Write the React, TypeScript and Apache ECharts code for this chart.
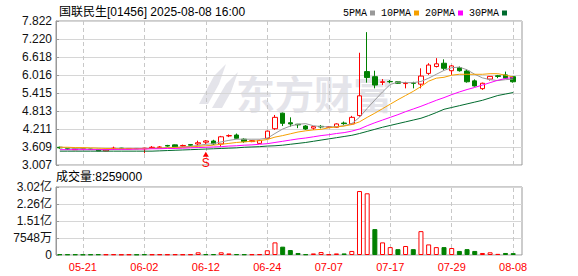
import React, { useEffect, useRef } from "react";
import * as echarts from "echarts";

const dates = [
  "05-16","05-19","05-20","05-21","05-22","05-23","05-26","05-27","05-28","05-29",
  "05-30","06-02","06-03","06-04","06-05","06-06","06-09","06-10","06-11","06-12",
  "06-13","06-16","06-17","06-18","06-19","06-20","06-23","06-24","06-25","06-26",
  "06-27","06-30","07-02","07-03","07-04","07-07","07-08","07-09","07-10","07-11",
  "07-14","07-15","07-16","07-17","07-18","07-21","07-22","07-23","07-24","07-25",
  "07-28","07-29","07-30","07-31","08-01","08-04","08-05","08-06","08-07","08-08",
];
const labelDates = ["05-21","06-02","06-12","06-24","07-07","07-17","07-29","08-08"];

const opens = [3.60,3.55,3.52,3.55,3.54,3.53,3.48,3.55,3.57,3.55,3.56,3.55,3.58,3.59,3.66,3.68,3.64,3.69,3.71,3.77,3.81,3.71,3.98,4.01,3.87,3.79,3.73,3.90,4.22,4.74,4.42,4.37,4.31,4.24,4.30,4.27,4.27,4.41,4.38,4.66,6.13,5.96,5.77,5.80,5.79,5.73,5.75,5.71,6.07,6.30,6.41,6.16,6.26,6.15,5.82,5.56,5.88,5.99,6.02,5.96];
const closes = [3.58,3.54,3.55,3.555,3.53,3.48,3.53,3.57,3.55,3.56,3.55,3.57,3.60,3.61,3.64,3.61,3.66,3.67,3.75,3.81,3.71,3.95,3.99,3.90,3.79,3.82,3.83,4.14,4.60,4.40,4.38,4.35,4.21,4.29,4.28,4.28,4.38,4.39,4.60,5.32,5.93,5.68,5.79,5.79,5.74,5.74,5.74,5.98,6.35,6.39,6.24,6.32,6.16,5.79,5.65,5.74,5.97,5.97,5.91,5.79];
const lows = [3.55,3.52,3.51,3.53,3.52,3.47,3.47,3.51,3.54,3.54,3.54,3.40,3.56,3.57,3.62,3.60,3.62,3.65,3.67,3.70,3.68,3.62,3.94,3.87,3.75,3.77,3.71,3.88,4.18,4.31,4.29,4.24,4.18,4.18,4.23,4.25,4.25,4.35,4.35,4.62,5.76,5.57,5.68,5.74,5.72,5.57,5.57,5.57,6.02,6.27,6.18,6.02,6.13,5.76,5.63,5.52,5.83,5.91,5.89,5.76];
const highs = [3.62,3.57,3.56,3.57,3.55,3.54,3.54,3.62,3.58,3.57,3.57,3.58,3.64,3.64,3.68,3.69,3.69,3.70,3.82,3.84,3.85,3.98,4.03,4.06,3.90,3.84,3.85,4.16,4.68,4.76,4.60,4.38,4.34,4.31,4.34,4.30,4.40,4.46,4.65,6.76,7.45,6.16,5.88,5.85,5.80,5.79,5.79,6.24,6.41,6.58,6.54,6.35,6.30,6.21,5.87,5.76,5.98,6.02,6.13,5.98];

const ma5 = [3.60,3.58,3.56,3.55,3.54,3.53,3.52,3.53,3.54,3.55,3.55,3.56,3.56,3.57,3.59,3.60,3.61,3.63,3.66,3.70,3.72,3.78,3.83,3.87,3.87,3.87,3.87,3.90,4.06,4.21,4.31,4.37,4.39,4.32,4.29,4.28,4.29,4.32,4.39,4.60,4.90,5.18,5.45,5.70,5.78,5.76,5.76,5.80,5.91,6.04,6.17,6.26,6.28,6.19,6.04,5.92,5.86,5.83,5.86,5.88];
const ma10 = [3.60,3.60,3.59,3.59,3.58,3.57,3.56,3.56,3.55,3.55,3.55,3.55,3.56,3.57,3.58,3.59,3.60,3.61,3.63,3.65,3.67,3.70,3.73,3.76,3.78,3.80,3.82,3.86,3.94,3.99,4.05,4.11,4.15,4.18,4.20,4.25,4.28,4.31,4.36,4.45,4.60,4.74,4.89,5.04,5.19,5.33,5.47,5.63,5.81,5.91,5.94,6.01,6.04,6.04,6.04,6.04,6.06,6.06,6.01,5.95];
const ma20 = [3.52,3.52,3.52,3.52,3.52,3.52,3.52,3.53,3.53,3.53,3.54,3.54,3.55,3.55,3.56,3.56,3.57,3.58,3.59,3.60,3.61,3.62,3.64,3.65,3.67,3.68,3.70,3.72,3.76,3.80,3.84,3.88,3.91,3.95,3.99,4.02,4.06,4.09,4.14,4.21,4.32,4.42,4.51,4.60,4.69,4.79,4.88,4.97,5.07,5.17,5.26,5.36,5.45,5.53,5.60,5.68,5.76,5.84,5.90,5.93];
const ma30 = [3.47,3.47,3.47,3.47,3.47,3.47,3.47,3.47,3.47,3.47,3.47,3.47,3.47,3.48,3.49,3.50,3.51,3.52,3.53,3.54,3.55,3.56,3.57,3.58,3.60,3.61,3.62,3.64,3.65,3.67,3.70,3.73,3.76,3.80,3.84,3.88,3.92,3.96,4.00,4.06,4.13,4.20,4.27,4.33,4.39,4.45,4.51,4.57,4.66,4.76,4.87,4.93,4.99,5.05,5.11,5.17,5.25,5.33,5.38,5.43];

const volumes = [3e6,2.5e6,2.5e6,2e6,2.5e6,3e6,2.5e6,3e6,2e6,2.5e6,2e6,3e6,2.5e6,3e6,2.5e6,3e6,2.5e6,3e6,12e6,3.5e6,3.5e6,12e6,7e6,3.5e6,3e6,3e6,3.5e6,21e6,56e6,37e6,22e6,9e6,3e6,7e6,13e6,3e6,7e6,7e6,18e6,284e6,274e6,115e6,56e6,35e6,26e6,40e6,26e6,106e6,47e6,35e6,35e6,31e6,18e6,26e6,18e6,9e6,12e6,5e6,9e6,8259000];
const volDir = [-1,-1,-1,-1,-1,-1,1,1,1,1,-1,-1,1,1,1,1,1,1,1,-1,-1,1,1,-1,-1,1,1,1,1,-1,-1,-1,-1,1,1,1,1,-1,1,1,1,-1,1,1,-1,1,-1,1,1,1,-1,1,-1,-1,-1,1,1,1,-1,-1];

const priceTicks = [3.007,3.609,4.211,4.813,5.415,6.016,6.618,7.220,7.822];
const volMax = 301920000;
const volTicks = [0, 75480000, 150960000, 226440000, 301920000];
const signalDate = "06-12";
const signalPrice = 3.37;

const UP = "#ff0000";
const DOWN = "#008000";
const SANS = "'Liberation Sans', Arial, 'Noto Sans CJK SC', sans-serif";
const MONO = "'Liberation Mono', 'DejaVu Sans Mono', monospace";
const WM = "#e4e4ea";

export default function App() {
  const ref = useRef<HTMLDivElement>(null);
  useEffect(() => {
    const chart = echarts.init(ref.current!, null, { renderer: "svg" });
    const labelIdx = new Set(labelDates.map((d) => dates.indexOf(d)));
    const vLines = {
      symbol: ["none", "none"],
      silent: true,
      z: 1,
      label: { show: false },
      lineStyle: { type: [4, 3], color: "#c8c8c8", width: 1 },
      data: labelDates.map((d) => ({ xAxis: d })),
    };
    const volFmt = (v: number) =>
      v === 0 ? "0" : v < 1e8 ? Math.round(v / 1e4) + "万" : (v / 1e8).toFixed(2) + "亿";
    const maSeries = [
      { name: "5PMA", data: ma5, color: "#999999" },
      { name: "10PMA", data: ma10, color: "#f5a000" },
      { name: "20PMA", data: ma20, color: "#ff00ff" },
      { name: "30PMA", data: ma30, color: "#006b2e" },
    ].map((s) => ({
      type: "line",
      name: s.name,
      xAxisIndex: 0,
      yAxisIndex: 0,
      data: s.data,
      showSymbol: false,
      symbol: "none",
      color: s.color,
      lineStyle: { width: 1, color: s.color },
      z: 3,
    }));
    const option: any = {
      animation: false,
      backgroundColor: "#ffffff",
      title: {
        text: "国联民生[01456] 2025-08-08 16:00",
        left: 54,
        top: 1,
        textStyle: { fontSize: 12, fontWeight: "normal", color: "#000", fontFamily: SANS },
      },
      legend: {
        data: ["5PMA", "10PMA", "20PMA", "30PMA"],
        left: 338,
        top: 3,
        icon: "rect",
        itemWidth: 5,
        itemHeight: 5,
        itemGap: 6,
        align: "right",
        selectedMode: false,
        textStyle: { fontSize: 10, fontFamily: MONO, color: "#000", padding: [0, -2, 0, 0] },
      },
      graphic: [
        {
          type: "group",
          silent: true,
          z: -1,
          children: [
            { type: "polygon", shape: { points: [[199, 104], [214, 76], [226, 64], [219, 84], [208, 104]] }, style: { fill: WM } },
            { type: "polygon", shape: { points: [[212, 108], [226, 84], [238, 72], [231, 92], [222, 108]] }, style: { fill: WM } },
            {
              type: "text",
              x: 236,
              y: 72,
              style: { text: "东方财富", font: "bold 39px 'Noto Sans CJK SC'", fill: WM },
            },
          ],
        },
        {
          type: "text",
          left: 56,
          top: 171,
          style: { text: "成交量:8259000", font: "12px " + SANS, fill: "#000" },
        },
      ],
      grid: [
        { left: 56, top: 21, width: 461, height: 144, show: false },
        { left: 56, top: 21, width: 466, height: 144, show: true, borderColor: "#999", borderWidth: 1, backgroundColor: "transparent" },
        { left: 56, top: 187, width: 461, height: 68, show: false },
        { left: 56, top: 187, width: 466, height: 68, show: true, borderColor: "#999", borderWidth: 1, backgroundColor: "transparent" },
      ],
      xAxis: [
        { type: "category", gridIndex: 0, data: dates, boundaryGap: true, axisLine: { show: false }, axisTick: { show: false }, axisLabel: { show: false }, splitLine: { show: false } },
        { type: "value", gridIndex: 1, min: 0, max: 1, show: false },
        {
          type: "category", gridIndex: 2, data: dates, boundaryGap: true,
          axisLine: { show: false }, axisTick: { show: false }, splitLine: { show: false },
          axisLabel: { interval: (i: number) => labelIdx.has(i), color: UP, fontSize: 11, margin: 6, fontFamily: SANS },
        },
        { type: "value", gridIndex: 3, min: 0, max: 1, show: false },
      ],
      yAxis: [
        { type: "value", gridIndex: 0, min: priceTicks[0], max: priceTicks[priceTicks.length - 1], show: false },
        {
          type: "value", gridIndex: 1, min: priceTicks[0], max: priceTicks[priceTicks.length - 1],
          axisLine: { show: true, lineStyle: { color: "#999" } },
          axisTick: { show: true, inside: true, length: 3, customValues: priceTicks, lineStyle: { color: "#999" } },
          axisLabel: { customValues: priceTicks, formatter: (v: number) => v.toFixed(3), color: "#111", fontSize: 12, margin: 4, fontFamily: SANS },
          splitLine: { show: true, lineStyle: { color: "#d6d6d6", width: 1 } },
        },
        { type: "value", gridIndex: 2, min: 0, max: volMax, show: false },
        {
          type: "value", gridIndex: 3, min: 0, max: volMax,
          axisLine: { show: true, lineStyle: { color: "#999" } },
          axisTick: { show: true, inside: true, length: 3, customValues: volTicks, lineStyle: { color: "#999" } },
          axisLabel: { customValues: volTicks, formatter: volFmt, color: "#111", fontSize: 12, margin: 4, fontFamily: SANS },
          splitLine: { show: true, lineStyle: { color: "#d6d6d6", width: 1 } },
        },
      ],
      series: [
        {
          type: "candlestick",
          xAxisIndex: 0,
          yAxisIndex: 0,
          barWidth: 5,
          data: opens.map((o, i) => [o, closes[i], lows[i], highs[i]]),
          itemStyle: { color: "#ffffff", color0: DOWN, borderColor: UP, borderColor0: DOWN, borderWidth: 1 },
          markLine: vLines,
          markPoint: {
            silent: true,
            data: [
              {
                coord: [signalDate, signalPrice],
                symbol: "triangle",
                symbolSize: [6, 5],
                itemStyle: { color: UP },
                label: { show: true, position: "bottom", distance: 0, formatter: "S", color: UP, fontSize: 12, fontFamily: SANS },
              },
            ],
          },
          z: 2,
        },
        ...maSeries,
        {
          type: "bar",
          xAxisIndex: 2,
          yAxisIndex: 2,
          barWidth: 5,
          data: volumes.map((v, i) => ({
            value: v,
            itemStyle: volDir[i] > 0
              ? { color: "#ffffff", borderColor: UP, borderWidth: 1 }
              : { color: DOWN, borderColor: DOWN, borderWidth: 1 },
          })),
          markLine: vLines,
          z: 2,
        },
      ],
    };
    chart.setOption(option);
    return () => chart.dispose();
  }, []);
  return <div ref={ref} style={{ position: "fixed", left: 0, top: 0, width: 578, height: 276 }} />;
}
